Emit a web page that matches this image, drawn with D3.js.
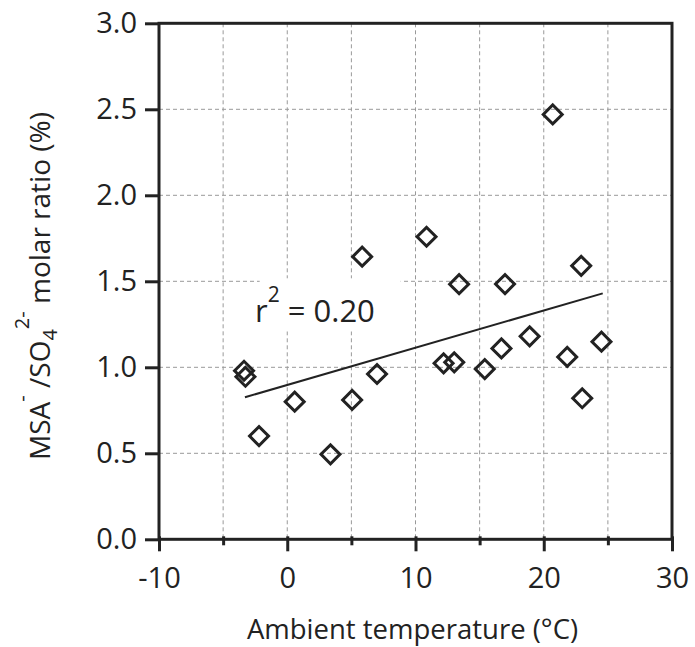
<!DOCTYPE html>
<html>
<head>
<meta charset="utf-8">
<script src="https://cdn.jsdelivr.net/npm/d3@7"></script>
<style>
  body {margin:0; background:#fff;}
  svg text {font-family:"Open Sans", Lato, sans-serif; fill:#222;}
</style>
</head>
<body>
<svg id=holder></svg>
<script>
// data
var temperature=[-3.37,-3.26,-2.2,0.58,3.37,5.06,7.0,12.19,13.02,15.4,16.7,18.9,21.83,23.0,24.5,20.7,5.84,10.86,13.4,16.98,22.92];
var msaRatio=[0.98,0.945,0.60,0.80,0.494,0.81,0.961,1.023,1.029,0.99,1.11,1.18,1.06,0.82,1.149,2.47,1.643,1.759,1.483,1.484,1.59];
var fitX=[-3.3,24.6];
var fitY=[0.826,1.43];
var xMajorTicks=[-10,0,10,20,30];
var xGridTicks=[-5,0,5,10,15,20,25];
var xMinorTicks=[-5,5,15,25];
var yTicks=[0,0.5,1.0,1.5,2.0,2.5,3.0];
var yGridTicks=[0.5,1.0,1.5,2.0,2.5];
var r2Label='0.20';

var width=695, height=647;
var padding_left=159, padding_right=23, padding_top=23.3, padding_bottom=107.7;
var ink='#222';

var svg=d3.select('#holder').attr('width',width).attr('height',height);
var gg=svg.append('g');

var xscale=d3.scaleLinear().domain([-10,30]).range([padding_left,width-padding_right]);
var yscale=d3.scaleLinear().domain([0,3]).range([height-padding_bottom,padding_top]);
var x0=xscale(-10), x1=xscale(30), y0=yscale(0), y1=yscale(3);

// grid
gg.append('g').selectAll('line').data(xGridTicks).join('line')
  .attr('x1',d=>xscale(d)).attr('x2',d=>xscale(d)).attr('y1',y1).attr('y2',y0)
  .attr('stroke','#999').attr('stroke-width',1).attr('stroke-dasharray','4,3');
gg.append('g').selectAll('line').data(yGridTicks).join('line')
  .attr('y1',d=>yscale(d)).attr('y2',d=>yscale(d)).attr('x1',x0).attr('x2',x1)
  .attr('stroke','#999').attr('stroke-width',1).attr('stroke-dasharray','4,3');

// label box for r^2
var lab=gg.append('g');
lab.append('rect').attr('x',xscale(-2.15)).attr('y',yscale(1.5)-3).attr('width',141).attr('height',53).attr('fill','#fff');
var t=lab.append('text').attr('x',255).attr('y',322).style('font-size','31px');
t.append('tspan').text('r');
t.append('tspan').attr('dy',-20).style('font-size','21px').text('2');
t.append('tspan').attr('dy',20).text(' = '+r2Label);

// axes
function style_axis(g) {
  g.select('.domain').remove();
  g.selectAll('.tick line').attr('stroke',ink).attr('stroke-width',3);
  g.selectAll('.tick text').style('font-size','29px').attr('fill',ink);
}
gg.append('g').attr('transform','translate('+x0+',0)')
  .call(d3.axisLeft(yscale).tickValues(yTicks).tickSize(14).tickPadding(8).tickFormat(d3.format('.1f')))
  .call(style_axis);
gg.append('g').attr('transform','translate(0,'+(y0-3)+')')
  .call(d3.axisBottom(xscale).tickValues(xMajorTicks).tickSize(15).tickPadding(16).tickFormat(d=>String(d).replace('\u2212','-')))
  .call(style_axis);
gg.append('g').attr('transform','translate(0,'+(y0-3)+')')
  .call(d3.axisBottom(xscale).tickValues(xMinorTicks).tickSize(9).tickFormat(''))
  .call(style_axis);

// frame
gg.append('rect').attr('x',x0).attr('y',y1).attr('width',x1-x0).attr('height',y0-y1)
  .attr('fill','none').attr('stroke',ink).attr('stroke-width',3);

// fit line
var line=d3.line().x(d=>xscale(d[0])).y(d=>yscale(d[1]));
gg.append('path').attr('d',line(d3.zip(fitX,fitY)))
  .attr('fill','none').attr('stroke',ink).attr('stroke-width',2);

// points
var sym=d3.symbol(d3.symbolSquare,180);
gg.append('g').selectAll('path').data(d3.zip(temperature,msaRatio)).join('path')
  .attr('d',sym)
  .attr('transform',d=>'translate('+xscale(d[0])+','+yscale(d[1])+') rotate(45)')
  .attr('fill','none').attr('stroke',ink).attr('stroke-width',3);

// axis titles
gg.append('text').attr('x',(x0+x1)/2-3).attr('y',639).attr('text-anchor','middle')
  .style('font-size','27.5px').text('Ambient temperature (°C)');

var yt=gg.append('text').attr('transform','translate(50,286) rotate(-90)').attr('text-anchor','middle')
  .style('font-size','28px');
yt.append('tspan').text('MSA');
yt.append('tspan').attr('dy',-21).style('font-size','20px').text('-');
yt.append('tspan').attr('dy',21).text(' /SO');
yt.append('tspan').attr('dy',7).style('font-size','20px').text('4');
yt.append('tspan').attr('dy',-28).style('font-size','20px').text('2-');
yt.append('tspan').attr('dy',21).text('  molar ratio (%)');
</script>
</body>
</html>
